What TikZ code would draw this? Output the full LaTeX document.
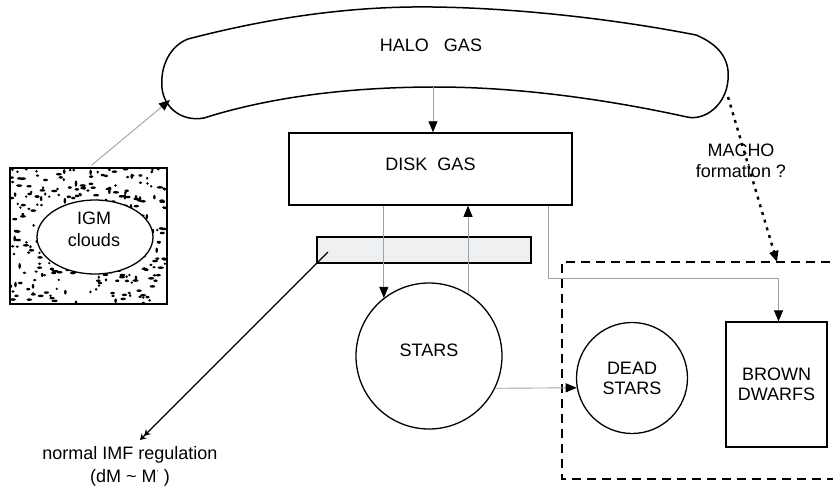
\documentclass[tikz,border=0pt]{standalone}
\usepackage{fontspec}
\setmainfont{Liberation Sans}
\usetikzlibrary{arrows.meta,calc,shapes.geometric}
\definecolor{flowgray}{HTML}{9AA3A6}
\definecolor{barfill}{HTML}{EEF0F2}
\begin{document}
\begin{tikzpicture}[x=1pt,y=-1pt,
  txt/.style={font=\fontsize{18}{20}\selectfont, align=center, inner sep=0pt},
  boxshape/.style={draw, line width=1.5pt, inner sep=0pt},
  flow/.style={draw=flowgray, line width=0.9pt, -{Triangle[length=11pt,width=9pt,fill=black,color=black]}},
  dashbox/.style={line width=1.5pt, dash pattern=on 9pt off 6pt},
  machoflow/.style={line width=2.4pt, dash pattern=on 3pt off 5pt, -{Triangle[length=11pt,width=9pt]}},
]
\useasboundingbox (0,0) rectangle (833,491);

% ---- HALO GAS banana ----
\draw[line width=1.5pt]
  (188,39) .. controls (280,15) and (360,6) .. (433,7)
  .. controls (520,8) and (620,20) .. (696,35)
  .. controls (720,45) and (730,60) .. (728,80)
  .. controls (726,105) and (705,121) .. (687,117)
  .. controls (610,100) and (520,87) .. (436,87)
  .. controls (350,87) and (270,97) .. (204,118)
  .. controls (182,122) and (164,108) .. (162,88)
  .. controls (160,66) and (170,46) .. (188,39) -- cycle;
\node[txt] (halo) at (431,45) {HALO\ \ \ GAS};
\coordinate (haloL) at (170,100);
\coordinate (haloB) at (433,87);
\coordinate (haloR) at (728,97);

% ---- IGM box with texture ----
\begin{scope}
  \clip (10,168) rectangle (167,304);
  \pgfmathsetseed{11}
  \foreach \i in {1,...,330}{
    \pgfmathsetmacro\px{11+155*rnd}
    \pgfmathsetmacro\py{169+134*rnd}
    \pgfmathsetmacro\len{1.2+2.0*rnd}
    \pgfmathsetmacro\vert{rnd<0.2}
    \pgfmathsetmacro\xr{ifthenelse(\vert>0.5,1.3,\len)}
    \pgfmathsetmacro\yr{ifthenelse(\vert>0.5,\len,1.3)}
    \fill (\px,\py) ellipse [x radius=\xr, y radius=\yr];
  }
\end{scope}
\node[boxshape, minimum width=157pt, minimum height=136pt] (igmbox) at (88.5,236) {};
\node[ellipse, draw, line width=1.3pt, fill=white, minimum width=116pt, minimum height=74pt, inner sep=0pt] (igm) at (95,237) {};
\node[txt, font=\fontsize{18}{22}\selectfont] (igmtext) at (94,229) {IGM\\clouds};

% ---- DISK GAS ----
\node[boxshape, txt, line width=1.5pt, draw, minimum width=283pt, minimum height=72pt, text depth=10pt] (disk) at (430.5,169) {DISK\ \ GAS};

% ---- IMF bar ----
\node[draw, line width=1.3pt, fill=barfill, minimum width=214pt, minimum height=26pt, inner sep=0pt] (bar) at (424,250) {};
\coordinate (barin) at (328,252);

% ---- STARS ----
\node[circle, draw, line width=1.3pt, minimum size=146pt, inner sep=0pt, txt, text depth=12pt] (stars) at (429,356) {STARS};

% ---- dashed region ----
\coordinate (dbTR) at (845,262);
\coordinate (dbTL) at (562,262);
\coordinate (dbBL) at (562,479);
\coordinate (dbBR) at (845,479);
\draw[dashbox] (dbTR) -- (dbTL) -- (dbBL) -- (dbBR);
\coordinate (dbtop) at (777,262);

% ---- DEAD STARS ----
\node[circle, draw, line width=1.3pt, minimum size=111pt, inner sep=0pt, txt] (dead) at (632,378) {DEAD\\STARS};

% ---- BROWN DWARFS ----
\node[boxshape, line width=1.3pt, minimum width=101pt, minimum height=125pt, txt] (bd) at (776.5,384.5) {BROWN\\DWARFS};

% ---- labels ----
\node[txt, font=\fontsize{18}{21}\selectfont] (macho) at (741,161) {MACHO\\formation ?};
\node[txt, font=\fontsize{18}{23}\selectfont] (imf) at (130,466) {normal IMF regulation\\(dM \textasciitilde\ M\textsuperscript{\scriptsize'} )};

% ---- connectors ----
\draw[flow] ($(igmbox.north)+(3,-2)$) -- (haloL);
\draw[flow] (haloB) -- (haloB |- disk.north);
\coordinate (dk1) at ($(disk.south west)!0.336!(disk.south east)$);
\coordinate (dk2) at ($(disk.south west)!0.915!(disk.south east)$);
\draw[flow] (dk1) -- (dk1 |- stars.128);
\draw[flow] (stars.58.6) -- (stars.58.6 |- disk.south);
\draw[flow] (stars.-26) -- (dead.190);
\draw[flow] (dk2) |- ($(bd.north)+(2,-43)$) -- ($(bd.north)+(2,0)$);
\draw[machoflow] (haloR) -- (dbtop);
\draw[line width=1.4pt, -{Stealth[length=6pt,width=7pt]Stealth[length=6pt,width=7pt]}] (barin) -- (140,440);
\end{tikzpicture}
\end{document}
